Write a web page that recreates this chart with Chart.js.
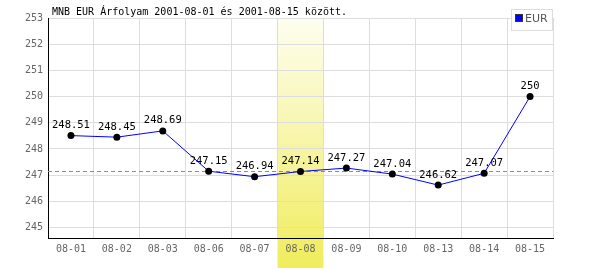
<!DOCTYPE html>
<html>
<head>
<meta charset="utf-8">
<script src="https://cdn.jsdelivr.net/npm/chart.js@4/dist/chart.umd.min.js"></script>
<style>
  html, body { margin: 0; padding: 0; background: #fff; }
  #wrap { width: 600px; height: 270px; }
</style>
</head>
<body>
<div id="wrap"><canvas id="rate-chart" width="600" height="270"></canvas></div>
<script>
  let days = ['08-01', '08-02', '08-03', '08-06', '08-07', '08-08', '08-09', '08-10', '08-13', '08-14', '08-15'];
  let eurRates = [248.51, 248.45, 248.69, 247.15, 246.94, 247.14, 247.27, 247.04, 246.62, 247.07, 250];
  let valueLabels = ['248.51', '248.45', '248.69', '247.15', '246.94', '247.14', '247.27', '247.04', '246.62', '247.07', '250'];
  let yTicks = [245, 246, 247, 248, 249, 250, 251, 252, 253];
  let highlightIndex = 5;
  let titleText = 'MNB EUR Árfolyam 2001-08-01 és 2001-08-15 között.';
  let seriesName = 'EUR';

  let mono = '"DejaVu Sans Mono", monospace';

  // yellow column behind the selected day
  let highlightPlugin = {
    id: 'highlight',
    beforeDraw(chart) {
      let ctx = chart.ctx;
      let x = chart.scales.x;
      let area = chart.chartArea;
      let half = (x.getPixelForValue(1) - x.getPixelForValue(0)) / 2;
      let cx = x.getPixelForValue(highlightIndex);
      let grad = ctx.createLinearGradient(0, area.top, 0, chart.height - 2);
      grad.addColorStop(0, '#fefef0');
      grad.addColorStop(1, '#f0ec5c');
      ctx.save();
      ctx.fillStyle = grad;
      ctx.fillRect(cx - half, area.top, half * 2, chart.height - 2 - area.top);
      ctx.restore();
    }
  };

  // dashed reference line, value labels, title, legend
  let overlayPlugin = {
    id: 'overlay',
    beforeDatasetsDraw(chart) {
      let ctx = chart.ctx;
      let area = chart.chartArea;
      let y = chart.scales.y.getPixelForValue(eurRates[highlightIndex]);
      ctx.save();
      ctx.strokeStyle = '#7d7dff';
      ctx.lineWidth = 1;
      ctx.setLineDash([4, 3]);
      ctx.beginPath();
      ctx.moveTo(area.left, Math.round(y) + 0.5);
      ctx.lineTo(area.right, Math.round(y) + 0.5);
      ctx.stroke();
      ctx.restore();
    },
    afterDraw(chart) {
      let ctx = chart.ctx;
      let meta = chart.getDatasetMeta(0);
      ctx.save();
      ctx.fillStyle = '#000';
      ctx.font = '10.5px ' + mono;
      ctx.textAlign = 'center';
      ctx.textBaseline = 'bottom';
      meta.data.forEach((pt, i) => {
        ctx.fillText(valueLabels[i], pt.x, pt.y - 5);
      });

      ctx.textAlign = 'left';
      ctx.textBaseline = 'alphabetic';
      ctx.font = '10px ' + mono;
      ctx.fillText(titleText, 52, 15);

      // legend box
      ctx.fillStyle = '#fff';
      ctx.fillRect(511.5, 9.5, 41, 21);
      ctx.strokeStyle = '#dddddd';
      ctx.lineWidth = 1;
      ctx.strokeRect(511.5, 9.5, 41, 21);
      ctx.fillStyle = '#0000ff';
      ctx.fillRect(516, 15, 6, 6);
      ctx.strokeStyle = '#333';
      ctx.strokeRect(515.5, 14.5, 7, 7);
      ctx.fillStyle = '#555';
      ctx.font = '11px "DejaVu Sans", sans-serif';
      ctx.textBaseline = 'middle';
      ctx.fillText(seriesName, 525, 19);
      ctx.restore();
    }
  };

  let ctx = document.getElementById('rate-chart').getContext('2d');
  new Chart(ctx, {
    type: 'line',
    data: {
      labels: days,
      datasets: [{
        label: seriesName,
        data: eurRates,
        borderColor: '#0000ff',
        borderWidth: 1,
        tension: 0,
        pointRadius: 3.5,
        pointBackgroundColor: '#000',
        pointBorderColor: '#000',
        pointBorderWidth: 0
      }]
    },
    options: {
      responsive: false,
      animation: false,
      layout: { padding: { top: 18, right: 47, bottom: 0, left: 0 } },
      plugins: {
        legend: { display: false },
        tooltip: { enabled: false },
        title: { display: false }
      },
      scales: {
        x: {
          offset: true,
          grid: { offset: true, color: '#dddddd', drawTicks: false },
          border: { color: '#000', width: 1 },
          ticks: { color: '#666', font: { family: mono, size: 10 }, padding: 5, maxRotation: 0, autoSkip: false },
          afterFit(scale) { scale.height = 32; }
        },
        y: {
          min: 244.6,
          max: 253,
          grid: { color: '#dddddd', drawTicks: false },
          border: { color: '#000', width: 1 },
          ticks: { color: '#666', font: { family: mono, size: 10 }, padding: 5 },
          afterBuildTicks(scale) {
            scale.ticks = yTicks.map(v => ({ value: v }));
          },
          afterFit(scale) { scale.width = 48; }
        }
      }
    },
    plugins: [highlightPlugin, overlayPlugin]
  });
</script>
</body>
</html>
